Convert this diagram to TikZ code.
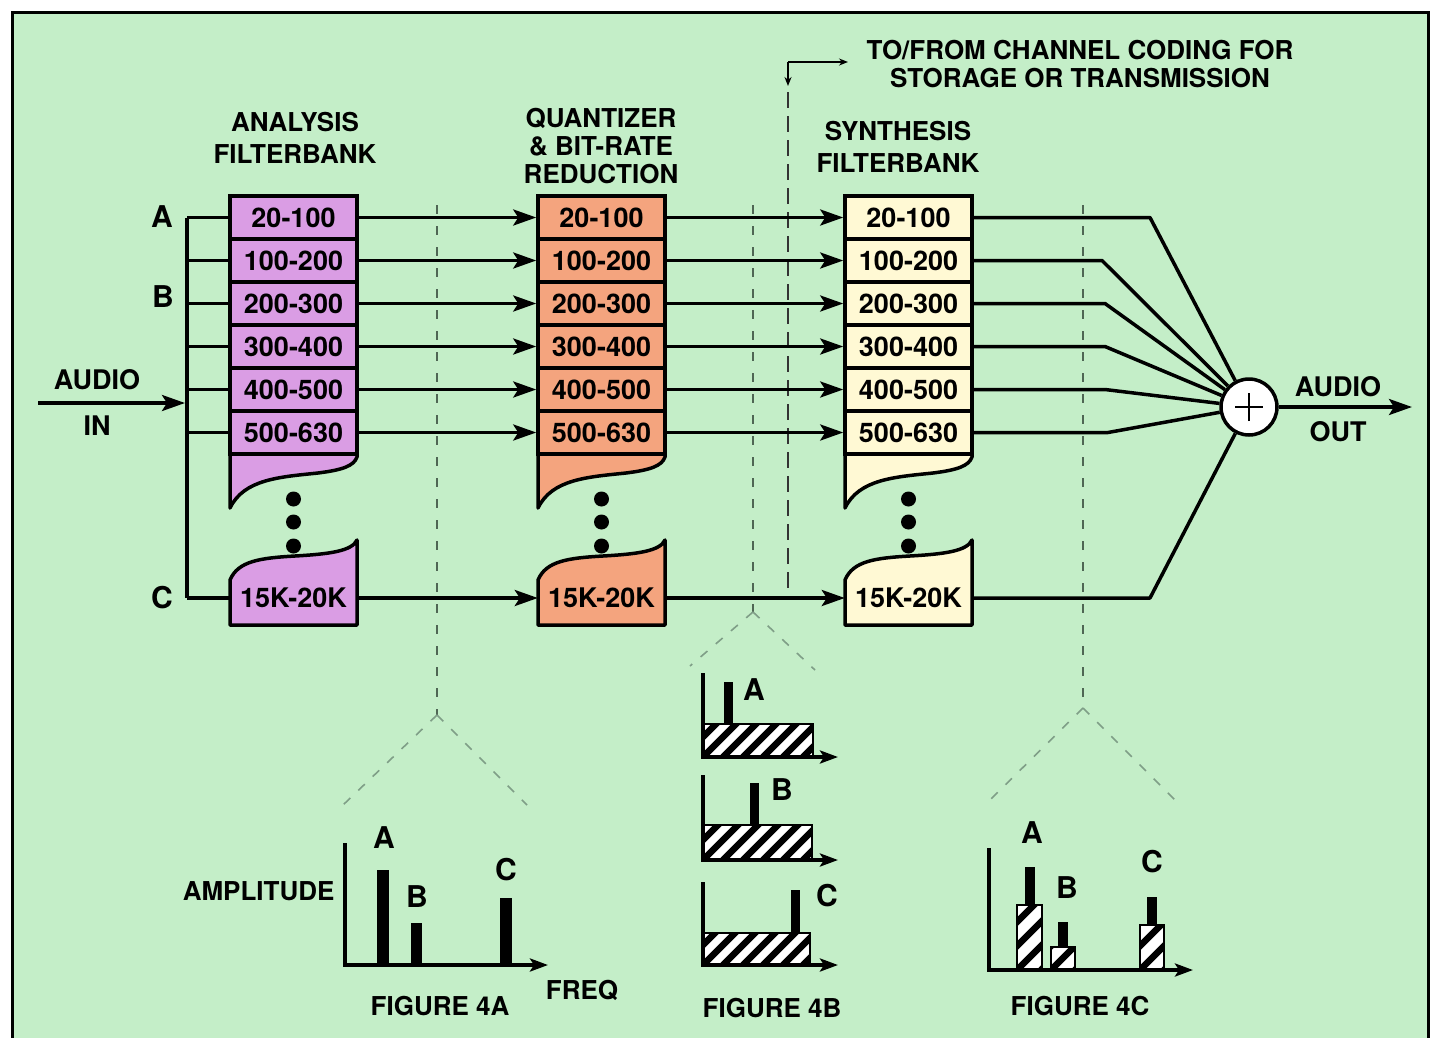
\documentclass[tikz,border=0pt]{standalone}
\usepackage{fontspec}
\setmainfont{TeX Gyre Heros}
\usetikzlibrary{arrows.meta}
\definecolor{bgg}{HTML}{C4EEC8}
\definecolor{purp}{HTML}{DA9DE4}
\definecolor{oran}{HTML}{F4A47E}
\definecolor{yell}{HTML}{FFF9D4}
\definecolor{guidev}{HTML}{4F6654}
\definecolor{guided}{HTML}{7F9E87}
\tikzset{
  cell/.style={draw, line width=3.5pt, minimum width=127pt, minimum height=43pt, inner sep=0pt},
  celltext/.style={minimum width=127pt, minimum height=40pt, inner sep=0pt},
  arr/.style={line width=3.5pt, -{Stealth[length=23pt,width=16pt,inset=5pt]}},
  smallarr/.style={line width=3.8pt, -{Stealth[length=18pt,width=13pt,inset=4pt]}},
  ln/.style={line width=3.5pt},
  vguide/.style={draw=guidev, line width=1.4pt, dash pattern=on 9pt off 12pt},
  dguide/.style={draw=guided, line width=1.6pt, dash pattern=on 9pt off 11pt},
  lguide/.style={draw=black!80, line width=1.5pt, dash pattern=on 16pt off 8pt},
  big/.style={font=\bfseries\fontsize{30}{32}\selectfont},
  txt/.style={font=\bfseries\fontsize{26}{28}\selectfont},
}
\newcommand\bankcol[3]{%
  \pgfmathsetmacro\xl{#2}%
  \pgfmathsetmacro\xr{#2+127}%
  \pgfmathsetmacro\xc{#2+63.5}%
  \filldraw[fill=#3, line width=3.5pt, line join=round] (\xl,450) -- (\xl,508)
     .. controls (\xl+14,479) and (\xl+50,477) .. (\xl+88,473)
     .. controls (\xl+112,470) and (\xl+124,466) .. (\xr,457) -- (\xr,450) -- cycle;
  \foreach \t [count=\i] in {20-100,100-200,200-300,300-400,400-500,500-630}
    \node[cell, fill=#3] (#1\i) at (\xc,{196+43*(\i-0.5)}) {\t};
  \filldraw[fill=#3, line width=3.5pt, line join=round] (\xl,580)
     .. controls (\xl+8,561) and (\xl+30,558) .. (\xl+65,556)
     .. controls (\xl+100,554) and (\xr-5,551) .. (\xr,540) -- (\xr,625) -- (\xl,625) -- cycle;
  \node[celltext] (#17) at (\xc,598) {15K-20K};
  \foreach \yy in {499,522,546} \fill (\xc,\yy) circle[radius=7.5pt];
}
\newcommand\hatch[5]{%
  \begin{scope}
    \clip (#1,#2) rectangle (#3,#4);
    \fill[white] (#1,#2) rectangle (#3,#4);
    \foreach \k in {-8,...,10} \draw[line width=6.5pt] ({#1+\k*#5},#4) -- ++(90,-90);
  \end{scope}
  \draw[line width=2.2pt] (#1,#2) rectangle (#3,#4);
}
\begin{document}
\begin{tikzpicture}[x=1pt,y=-1pt, font=\bfseries\fontsize{27}{30}\selectfont]
\useasboundingbox (0,0) rectangle (1436,1037);
\fill[white] (0,0) rectangle (1436,1037);
\filldraw[fill=bgg, draw=black, line width=3pt] (12,12) rectangle (1428,1045);

% guide lines (behind)
\draw[vguide] (437,205) -- (437,715);
\draw[dguide] (437,715) -- (343,805);
\draw[dguide] (437,715) -- (527,805);
\draw[vguide] (753,205) -- (753,612);
\draw[dguide] (753,612) -- (690,666);
\draw[dguide] (753,612) -- (815,670);
\draw[vguide] (1083,205) -- (1083,708);
\draw[dguide] (1083,708) -- (990,800);
\draw[dguide] (1083,708) -- (1175,800);

% channel coding pointer
\coordinate (tc) at (788,62);
\coordinate (tcr) at (848,62);
\coordinate (tcd) at (788,86);
\coordinate (tcl) at (788,92);
\coordinate (tcb) at (788,598);
\draw[line width=1.5pt, -{Stealth[length=9pt,width=7pt]}] (tc) -- (tcr);
\draw[line width=1.5pt, -{Stealth[length=9pt,width=7pt]}] (tc) -- (tcd);
\draw[lguide] (tcl) -- (tcb);
\node[txt, align=center] (chan) at (1080,64) {TO/FROM CHANNEL CODING FOR\\STORAGE OR TRANSMISSION};

% headers
\node[txt, align=center, font=\bfseries\fontsize{26}{32}\selectfont] (hA) at (295,138) {ANALYSIS\\FILTERBANK};
\node[txt, align=center, font=\bfseries\fontsize{26}{28}\selectfont] (hQ) at (601,146) {QUANTIZER\\\& BIT-RATE\\REDUCTION};
\node[txt, align=center, font=\bfseries\fontsize{26}{32}\selectfont] (hS) at (898,147) {SYNTHESIS\\FILTERBANK};

% columns
\bankcol{a}{230}{purp}
\bankcol{q}{538}{oran}
\bankcol{s}{845}{yell}

% input bus
\coordinate (busT) at (187,217.5);
\coordinate (busB) at (187,598);
\draw[ln] (busT) -- (busB);
\foreach \i in {1,...,6} {
  \coordinate (br\i) at (187,{196+43*(\i-0.5)});
}
\coordinate (br7) at (187,598);
\foreach \i in {1,...,7} \draw[ln] (br\i) -- (a\i.west);
\node[big] (lA) at (162,217) {A};
\node[big] (lB) at (163,297) {B};
\node[big] (lC) at (162,598) {C};
\coordinate (ain) at (38,403);
\coordinate (ainE) at (185,403);
\draw[arr] (ain) -- (ainE);
\node (tAudio) at (97,380) {AUDIO};
\node (tIn) at (97,426) {IN};

% forward arrows
\foreach \i in {1,...,7} {
  \draw[arr] (a\i.east) -- (q\i.west);
  \draw[arr] (q\i.east) -- (s\i.west);
}

% summing node
\node[circle, draw, line width=3.5pt, fill=white, minimum size=56pt, inner sep=0pt] (sum) at (1249,407) {};
\draw[line width=2pt] ([xshift=-14pt]sum.center) -- ([xshift=14pt]sum.center);
\draw[line width=2pt] ([yshift=-14pt]sum.center) -- ([yshift=14pt]sum.center);
\coordinate (b1) at (1150,217.5);
\coordinate (b2) at (1102,260.5);
\coordinate (b3) at (1105,303.5);
\coordinate (b4) at (1105,346.5);
\coordinate (b5) at (1105,389.5);
\coordinate (b6) at (1108,432.5);
\coordinate (b7) at (1150,598);
\foreach \i in {1,...,7} \draw[ln, line join=round] (s\i.east) -- (b\i) -- (sum);
\coordinate (aout) at (1412,407);
\draw[arr] (sum) -- (aout);
\node (tAudio2) at (1338,387) {AUDIO};
\node (tOut) at (1338,432) {OUT};

% Figure 4A
\draw[smallarr] (345,843) -- (345,965) -- (548,965);
\fill (377,870) rectangle (389,965);
\fill (411,923) rectangle (422,965);
\fill (500,898) rectangle (512,965);
\node[big] (fa) at (384,838) {A};
\node[big] (fb) at (417,897) {B};
\node[big] (fc) at (506,870) {C};
\node[txt, anchor=east] (amp) at (338,891) {AMPLITUDE};
\node[txt] (freq) at (582,990) {FREQ};
\node[txt] (f4a) at (440,1006) {FIGURE 4A};

% Figure 4B
\hatch{703}{724}{813}{757}{20}
\fill (724,682) rectangle (733,724);
\draw[smallarr] (703,673) -- (703,757) -- (838,757);
\node[big] (gA) at (754,690) {A};
\hatch{703}{825}{812}{860}{20}
\fill (750,783) rectangle (759,825);
\draw[smallarr] (703,775) -- (703,860) -- (838,860);
\node[big] (gB) at (782,790) {B};
\hatch{703}{933}{810}{965}{20}
\fill (791,890) rectangle (800,933);
\draw[smallarr] (703,882) -- (703,965) -- (838,965);
\node[big] (gC) at (827,896) {C};
\node[txt] (f4b) at (772,1008) {FIGURE 4B};

% Figure 4C
\hatch{1017}{905}{1042}{970}{24}
\fill (1025,867) rectangle (1035,905);
\hatch{1051}{947}{1075}{970}{24}
\fill (1058,922) rectangle (1068,947);
\hatch{1140}{925}{1164}{970}{24}
\fill (1147,897) rectangle (1157,925);
\draw[smallarr] (989,848) -- (989,970) -- (1193,970);
\node[big] (hcA) at (1032,833) {A};
\node[big] (hcB) at (1067,888) {B};
\node[big] (hcC) at (1152,862) {C};
\node[txt] (f4c) at (1080,1006) {FIGURE 4C};
\end{tikzpicture}
\end{document}
